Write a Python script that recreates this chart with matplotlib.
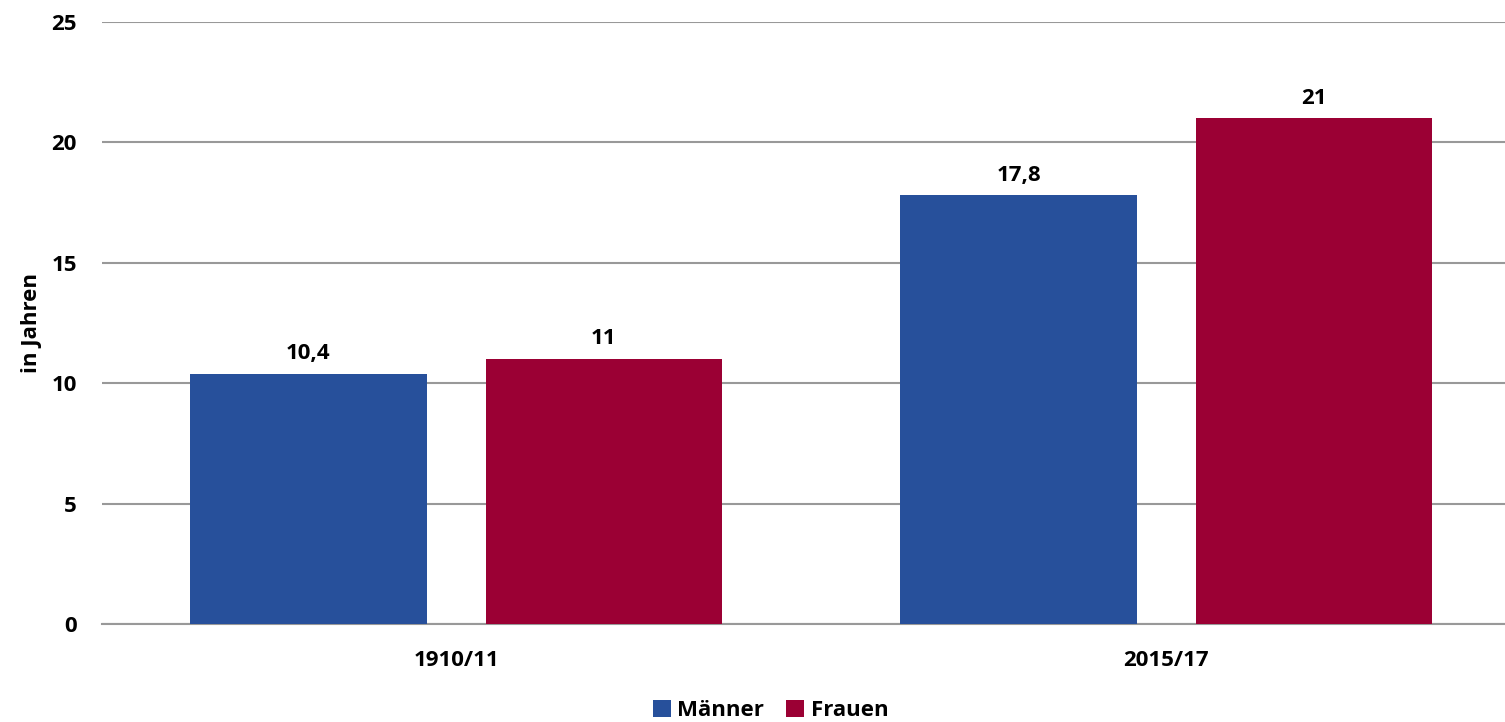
import matplotlib
matplotlib.use("Agg")
import matplotlib.pyplot as plt
import numpy as np

categories = ["1910/11", "2015/17"]
maenner = [10.4, 17.8]
frauen = [11, 21]
series_names = ["Männer", "Frauen"]
yticks = [0, 5, 10, 15, 20, 25]

plt.rcParams['font.family'] = ['Open Sans', 'DejaVu Sans']
plt.rcParams['font.weight'] = 'bold'
FS = 16

fig = plt.figure(figsize=(15.05, 7.22), dpi=100)
ax = fig.add_axes([102/1505, 1-624/722, 1-102/1505, (624-22)/722])

x = np.arange(len(categories))
w = 0.333
off = 0.208
c_m = "#27509B"
c_f = "#9B0034"
b1 = ax.bar(x - off, maenner, w, color=c_m, label=series_names[0], zorder=3)
b2 = ax.bar(x + off, frauen, w, color=c_f, label=series_names[1], zorder=3)

def fmt(v):
    s = f"{v:g}"
    return s.replace(".", ",")

for bars, vals in ((b1, maenner), (b2, frauen)):
    for r, v in zip(bars, vals):
        ax.annotate(fmt(v), (r.get_x() + r.get_width()/2, v), xytext=(0, 7),
                    textcoords="offset points", ha="center", va="bottom",
                    fontsize=FS, fontweight="bold")

ax.set_xlim(-0.4986, 1.477)
ax.set_ylim(0, 25)
ax.set_yticks(yticks)
ax.set_yticklabels([str(t) for t in yticks], fontsize=FS, fontweight="bold")
ax.set_xticks(x)
ax.set_xticklabels(categories, fontsize=FS, fontweight="bold")
ax.tick_params(axis="both", length=0)
ax.tick_params(axis="y", pad=18)
ax.tick_params(axis="x", pad=19)
ax.yaxis.grid(True, color="#999999", linewidth=1.5, zorder=0)
for s in ["top", "right", "left"]:
    ax.spines[s].set_visible(False)
ax.spines["bottom"].set_color("#999999")
ax.spines["bottom"].set_linewidth(1.5)
ax.set_ylabel("in Jahren", fontsize=FS, fontweight="bold")
ax.yaxis.set_label_coords(-0.043, 0.5)

leg = fig.legend(handles=[b1, b2], labels=series_names, loc="lower center",
                 bbox_to_anchor=(0.512, -0.026), ncol=2, frameon=False,
                 fontsize=FS, handlelength=0.8, handleheight=0.8,
                 handletextpad=0.3, columnspacing=1.0)
for t in leg.get_texts():
    t.set_fontweight("bold")

fig.savefig("out.png", dpi=100)
